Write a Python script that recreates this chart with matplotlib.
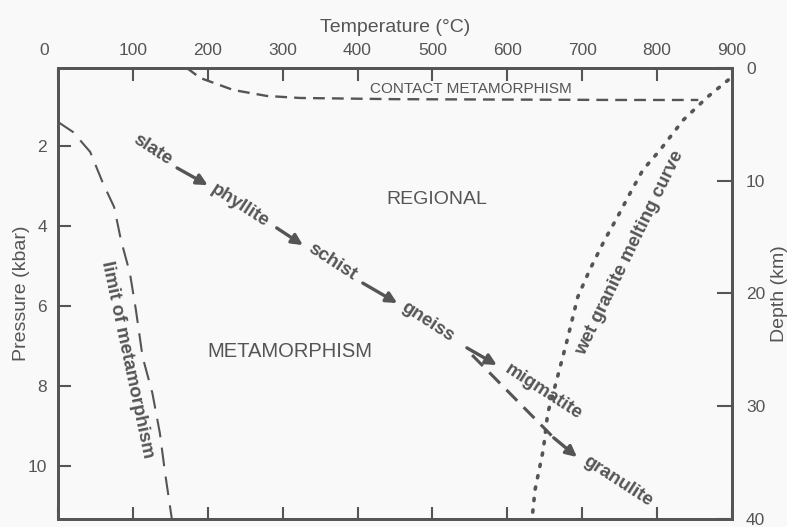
import matplotlib
matplotlib.use("Agg")
import matplotlib.pyplot as plt
import matplotlib.transforms as mtransforms

# axis ticks
temp_ticks = [0, 100, 200, 300, 400, 500, 600, 700, 800, 900]
pressure_ticks = [2, 4, 6, 8, 10]
depth_ticks = [0, 10, 20, 30, 40]

# contact metamorphism boundary (T in C, P in kbar)
contact_T = [172, 190, 234, 279, 323, 450, 600, 750, 855]
contact_P = [0.05, 0.3, 0.6, 0.75, 0.8, 0.83, 0.84, 0.85, 0.85]

# limit of metamorphism
limit_T = [0, 20, 43, 60, 75, 84, 96, 104, 113, 126, 136, 143, 152]
limit_P = [1.4, 1.65, 2.15, 2.93, 3.53, 4.35, 5.18, 6.1, 7.28, 8.18, 9.18, 10.18, 11.33]

# wet granite melting curve
melt_T = [895, 867, 835, 804, 781, 764, 747, 730, 710, 694, 680, 666, 654, 648, 637, 633]
melt_P = [0.35, 0.78, 1.35, 2.1, 2.6, 3.18, 3.78, 4.35, 5.1, 5.78, 6.85, 7.85, 8.68, 9.6, 10.6, 11.33]

# regional sequence
rock_names = ["slate", "phyllite", "schist", "gneiss", "migmatite", "granulite"]
rock_T = [126, 243, 366, 494, 648, 748]
rock_P = [2.1, 3.5, 4.9, 6.4, 8.15, 10.38]

arrow_T0 = [159, 292, 407, 546]
arrow_P0 = [2.55, 4.05, 5.43, 7.05]
arrow_T1 = [200, 327, 453, 586]
arrow_P1 = [2.98, 4.48, 5.93, 7.48]

granulite_T = [553, 662, 693]
granulite_P = [7.23, 9.3, 9.78]

ink = "#555555"
bg = "#f9f9f9"
plt.rcParams["font.family"] = ["Liberation Sans", "DejaVu Sans"]

fig = plt.figure(figsize=(7.87, 5.27), dpi=100, facecolor=bg)
ax = fig.add_axes([0.0737, 0.0152, 0.8564, 0.8558], facecolor=bg)

ax.plot(contact_T, contact_P, color=ink, lw=1.7, ls=(0, (5, 3)))
ax.plot(limit_T, limit_P, color=ink, lw=1.5, ls=(0, (9, 5)))
ax.plot(melt_T, melt_P, color=ink, lw=2.6, ls=(0, (0.6, 2.6)), dash_capstyle="round")

arrow_kw = dict(arrowstyle="-|>", color=ink, lw=2.4, mutation_scale=16, shrinkA=0, shrinkB=0)
for a, b, c, d in zip(arrow_T0, arrow_P0, arrow_T1, arrow_P1):
    ax.annotate("", xy=(c, d), xytext=(a, b), arrowprops=arrow_kw)

ax.plot(granulite_T[:2], granulite_P[:2], color=ink, lw=2.2, ls=(0, (5, 3)))
ax.annotate("", xy=(granulite_T[2], granulite_P[2]), xytext=(granulite_T[1], granulite_P[1]),
            arrowprops=arrow_kw)

for name, t, p in zip(rock_names, rock_T, rock_P):
    ax.text(t, p, name, rotation=-33, color=ink, fontsize=13.5, fontweight="bold",
            ha="center", va="center", rotation_mode="anchor")

ax.text(506, 3.35, "REGIONAL", color=ink, fontsize=14, ha="center", va="center")
ax.text(310, 7.15, "METAMORPHISM", color=ink, fontsize=14.5, ha="center", va="center")
ax.text(551, 0.58, "CONTACT METAMORPHISM", color=ink, fontsize=11, ha="center", va="center")
ax.text(92, 7.35, "limit of metamorphism", color=ink, fontsize=13.5, fontweight="bold",
        rotation=-78, ha="center", va="center", rotation_mode="anchor")
ax.text(764, 4.68, "wet granite melting curve", color=ink, fontsize=13.5, fontweight="bold",
        rotation=64, ha="center", va="center", rotation_mode="anchor")

ax.set_xlim(0, 900)
ax.set_ylim(11.33, 0.05)
ax.set_xticks(temp_ticks)
ax.set_yticks(pressure_ticks)
ax.tick_params(axis="x", top=True, bottom=True, labeltop=True, labelbottom=False,
               direction="in", length=9, width=1.5, color=ink, labelcolor=ink,
               labelsize=12.5, pad=7)
ax.tick_params(axis="y", direction="in", length=9, width=1.5, color=ink,
               labelcolor=ink, labelsize=12.5, pad=8)
ax.xaxis.set_label_position("top")
ax.set_xlabel("Temperature (°C)", color=ink, fontsize=14, labelpad=8)
ax.set_ylabel("Pressure (kbar)", color=ink, fontsize=14, labelpad=-2)

# the "0" at the top-left sits a bit left of the corner in the original
zero_lbl = ax.xaxis.get_major_ticks()[0].label2
zero_lbl.set_transform(zero_lbl.get_transform() +
                       mtransforms.ScaledTranslation(-14 / 100, 0, fig.dpi_scale_trans))

ax2 = ax.twinx()
ax2.set_ylim(40, 0)
ax2.set_yticks(depth_ticks)
ax2.tick_params(axis="y", direction="in", length=11, width=1.5, color=ink,
                labelcolor=ink, labelsize=12.5, pad=10)
ax2.set_ylabel("Depth (km)", color=ink, fontsize=14, labelpad=4)

for a in (ax, ax2):
    for s in a.spines.values():
        s.set_color(ink)
        s.set_linewidth(2)

fig.savefig("out.png", dpi=100, facecolor=bg)
